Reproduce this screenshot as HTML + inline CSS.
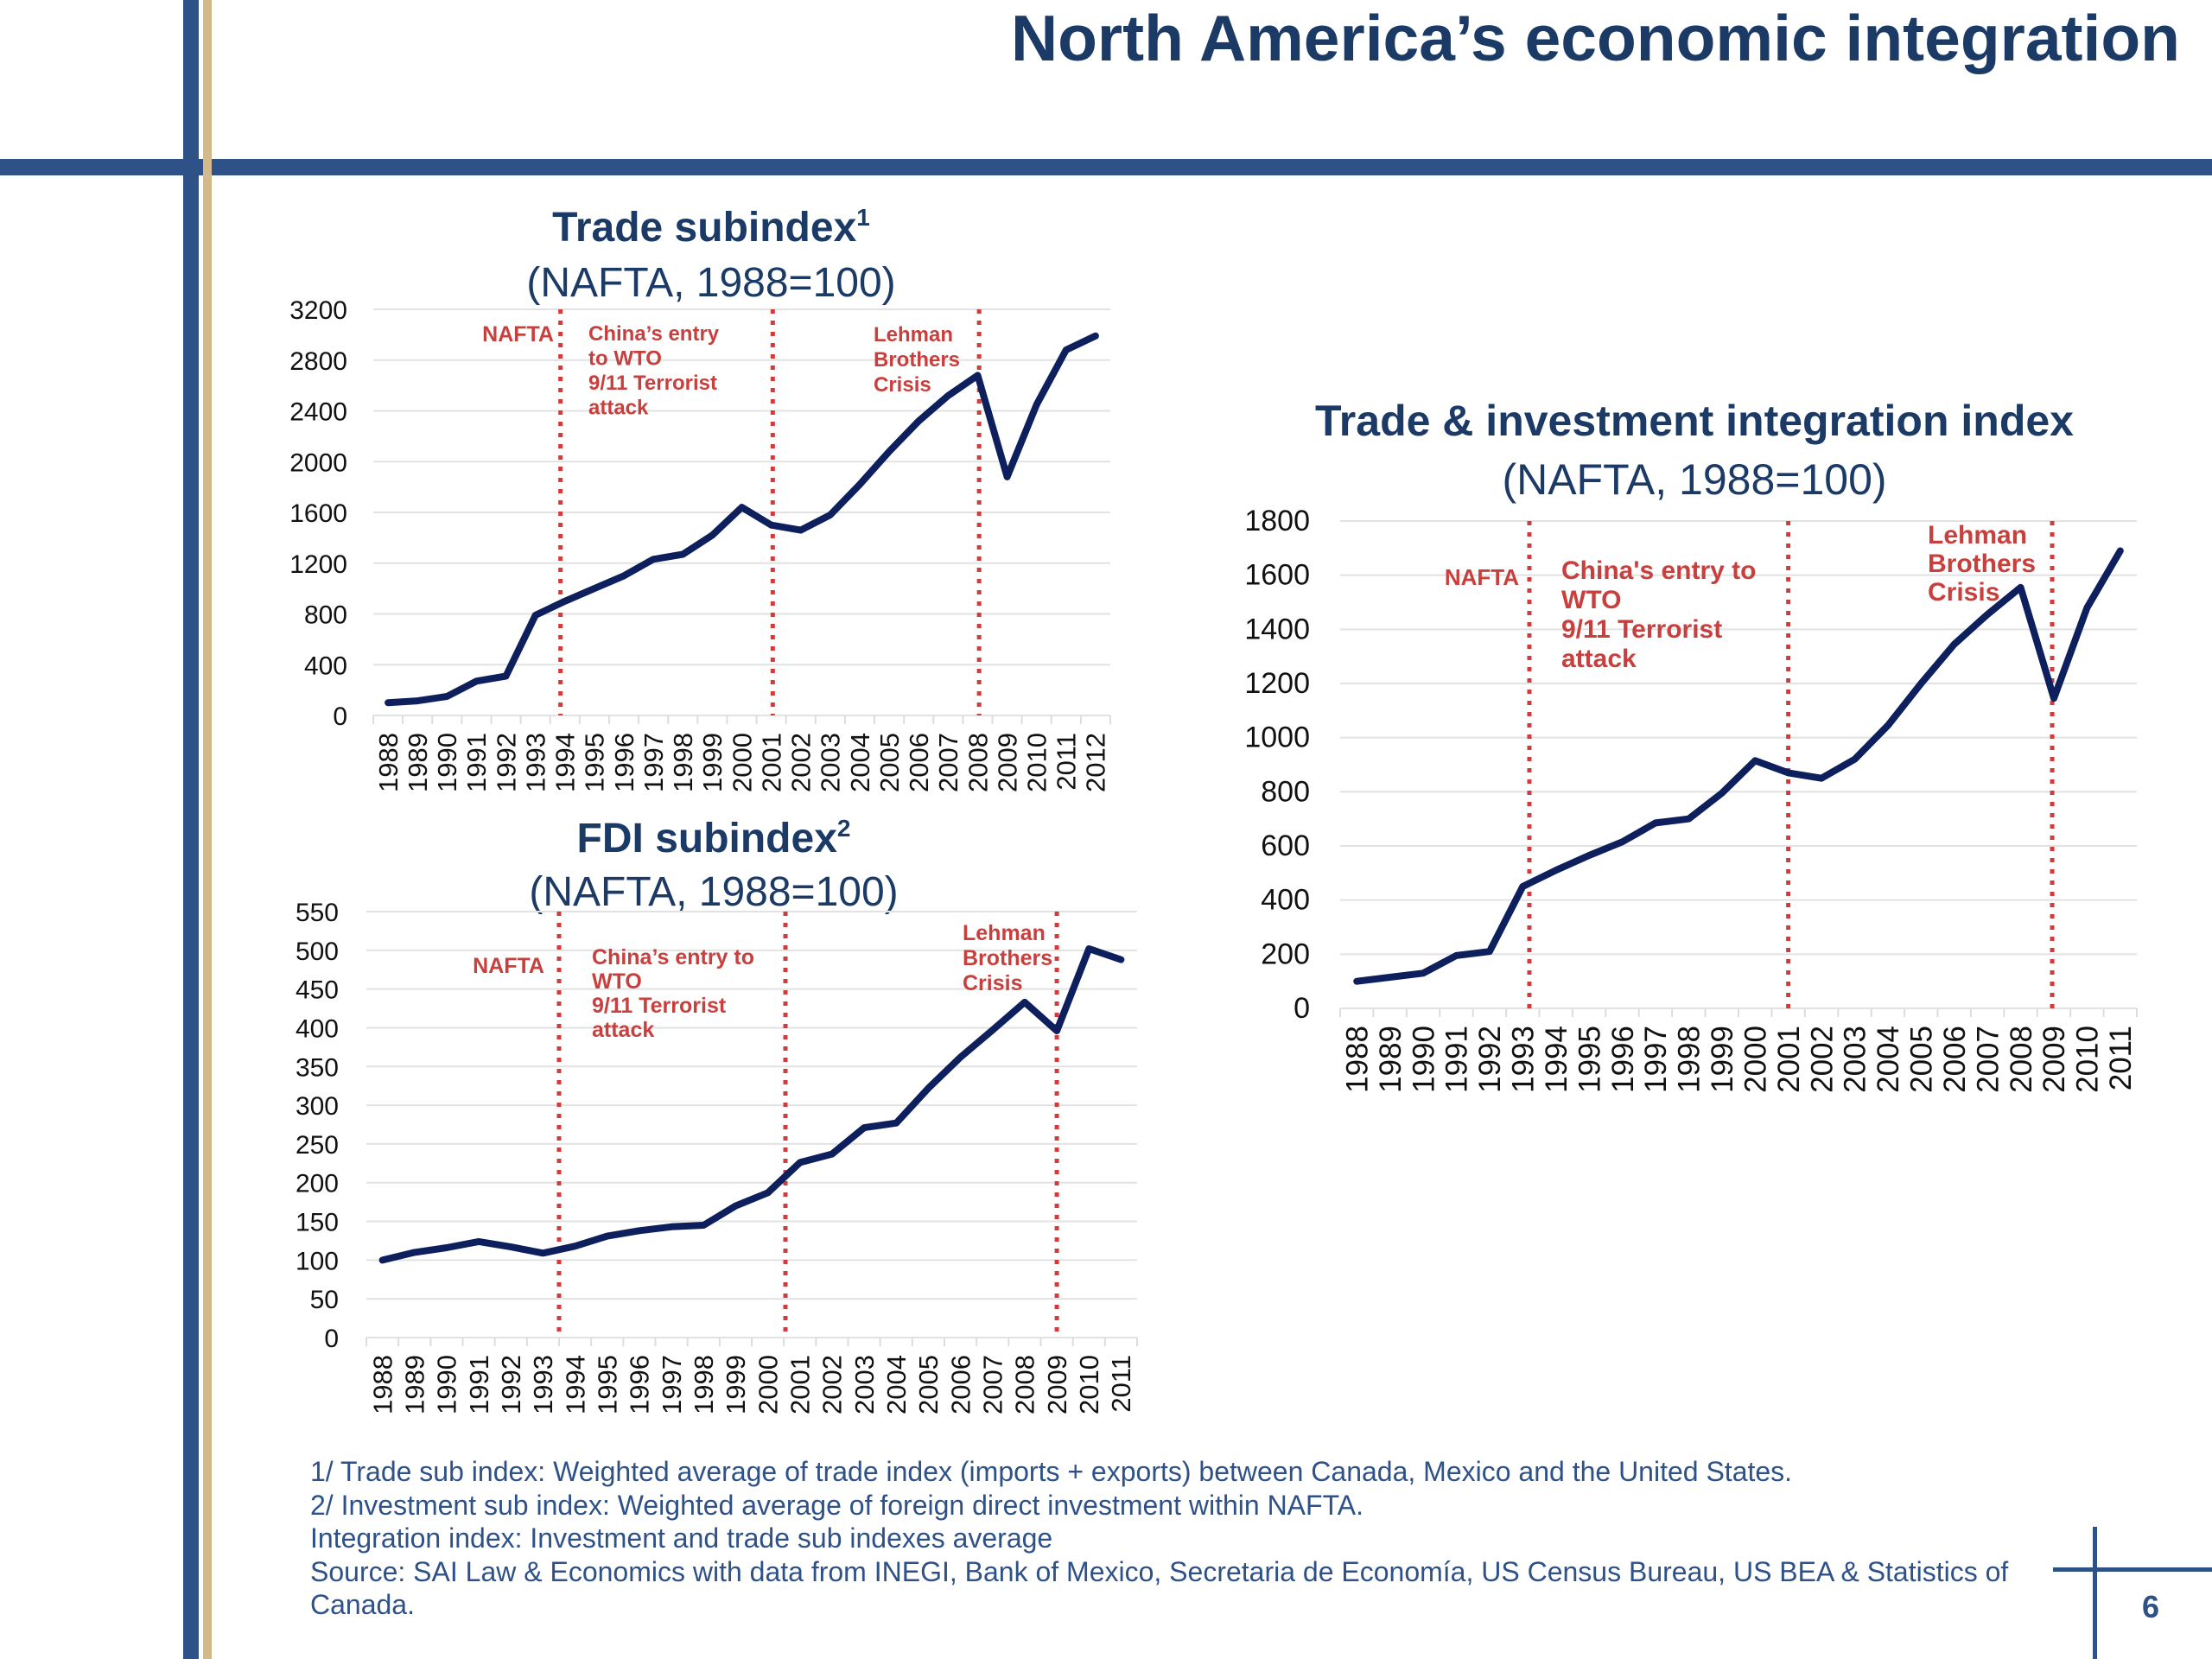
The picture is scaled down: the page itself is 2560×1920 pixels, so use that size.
<!DOCTYPE html>
<html><head><meta charset="utf-8"><style>
html,body{margin:0;padding:0;background:#fff}
svg{display:block}
</style></head><body>
<svg id="s" width="2560" height="1920" viewBox="0 0 2560 1920" xmlns="http://www.w3.org/2000/svg" font-family="Liberation Sans, Arial, sans-serif">
<rect x="0" y="0" width="2560" height="1920" fill="#fff"/>
<rect x="0" y="184" width="2560" height="19" fill="#2e5188"/>
<rect x="212" y="0" width="18" height="1920" fill="#2e5188"/>
<rect x="235" y="0" width="10" height="1920" fill="#d4b98a"/>
<text x="2523" y="70" text-anchor="end" font-size="75" font-weight="bold" fill="#1b3a66">North America’s economic integration</text>
<g font-size="32" fill="#2e5188">
<text x="359" y="1714">1/ Trade sub index: Weighted average of trade index (imports + exports) between Canada, Mexico and the United States.</text>
<text x="359" y="1753">2/ Investment sub index: Weighted average of foreign direct investment within NAFTA.</text>
<text x="359" y="1791">Integration index: Investment and trade sub indexes average</text>
<text x="359" y="1830">Source: SAI Law &amp; Economics with data from INEGI, Bank of Mexico, Secretaria de Economía, US Census Bureau, US BEA &amp; Statistics of</text>
<text x="359" y="1868">Canada.</text>
</g>
<rect x="2422" y="1767" width="5" height="153" fill="#2e5188"/>
<rect x="2376" y="1814" width="184" height="5" fill="#2e5188"/>
<text x="2489" y="1872" text-anchor="middle" font-size="36" font-weight="bold" fill="#2e5188">6</text>
</svg>
<script>
const tradeYears = ["1988","1989","1990","1991","1992","1993","1994","1995","1996","1997","1998","1999","2000","2001","2002","2003","2004","2005","2006","2007","2008","2009","2010","2011","2012"];
const tradeValues = [100,115,150,270,310,790,900,1000,1100,1230,1270,1420,1640,1500,1460,1580,1820,2080,2320,2520,2680,1880,2450,2880,2990];
const tradeTicks = [0,400,800,1200,1600,2000,2400,2800,3200];
const tradeEvents = [5.85,13.05,20.05];
const fdiYears = ["1988","1989","1990","1991","1992","1993","1994","1995","1996","1997","1998","1999","2000","2001","2002","2003","2004","2005","2006","2007","2008","2009","2010","2011"];
const fdiValues = [100,110,116,124,117,109,118,131,138,143,145,170,187,226,237,271,277,322,362,397,433,396,502,488];
const fdiTicks = [0,50,100,150,200,250,300,350,400,450,500,550];
const fdiEvents = [5.5,12.55,21.0];
const intYears = fdiYears.slice();
const intValues = [100,115,130,195,210,450,510,565,615,685,700,795,915,870,850,920,1045,1200,1345,1455,1555,1145,1480,1690];
const intTicks = [0,200,400,600,800,1000,1200,1400,1600,1800];
const intEvents = [5.2,13.0,20.95];

const NS="http://www.w3.org/2000/svg";
const svg=document.getElementById('s');
function mk(tag,attrs,parent){const e=document.createElementNS(NS,tag);for(const k in attrs)e.setAttribute(k,attrs[k]);(parent||svg).appendChild(e);return e;}

function chart(cfg,years,values,ticks,events){
  const g=mk('g',{});
  
  
  const n=years.length, band=(cfg.x1-cfg.x0)/n;
  const ymax=ticks[ticks.length-1];
  const X=i=>cfg.x0+band*(i+0.5);
  const Y=v=>cfg.yb-(v/ymax)*(cfg.yb-cfg.yt);
  const t1=mk('text',{x:cfg.cx,y:cfg.ty,'text-anchor':'middle','font-size':cfg.tfs,'font-weight':'bold',fill:'#1b3a66'},g);
  t1.textContent=cfg.title;
  if(cfg.sup){const ts=mk('tspan',{'font-size':28,dy:-18},t1);ts.textContent=cfg.sup;}
  
  
  const t2=mk('text',{x:cfg.cx,y:cfg.sy,'text-anchor':'middle','font-size':cfg.tfs,fill:'#1b3a66'},g);
  t2.textContent='(NAFTA, 1988=100)';
  
  
  ticks.forEach(t=>{
    const l=mk('line',{x1:cfg.x0,x2:cfg.x1,y1:Y(t),y2:Y(t),stroke:'#e2e2e2','stroke-width':2},g);
    
    
    const tx=mk('text',{x:cfg.lx,y:Y(t)+11,'text-anchor':'end','font-size':cfg.fs,fill:'#111'},g);
    tx.textContent=t;
    
    
  });
  for(let i=0;i<=n;i++){
    const tk=mk('line',{x1:cfg.x0+band*i,x2:cfg.x0+band*i,y1:cfg.yb,y2:cfg.yb+10,stroke:'#ddd','stroke-width':2},g);
    
    
  }
  years.forEach((yr,i)=>{
    const tx=mk('text',{x:0,y:0,'text-anchor':'end','font-size':cfg.fs+1,fill:'#111',transform:`translate(${X(i)+cfg.fs*0.36},${cfg.yb+20}) rotate(-90)`},g);
    tx.textContent=yr;
    
    
  });
  events.forEach(e=>{
    const l=mk('line',{x1:X(e),x2:X(e),y1:cfg.yt,y2:cfg.yb,stroke:'#d23b3b','stroke-width':5,'stroke-dasharray':'5 8'},g);
    
    
  });
  const pts=values.map((v,i)=>X(i).toFixed(1)+','+Y(v).toFixed(1)).join(' ');
  const pl=mk('polyline',{points:pts,fill:'none',stroke:'#0d1f5c','stroke-width':8,'stroke-linejoin':'round','stroke-linecap':'round'},g);
  
  
  cfg.notes.forEach(nt=>{
    const tx=mk('text',{x:nt.x,y:nt.y,'text-anchor':nt.a||'start','font-size':nt.fs,'font-weight':'bold',fill:'#c8403e'},g);
    nt.lines.forEach((ln,k)=>{const ts=mk('tspan',{x:nt.x,dy:k?nt.lh:0},tx);ts.textContent=ln;});
    
    
  });
}

chart({name:'trade-subindex-chart',title:'Trade subindex',sup:'1',tfs:48,cx:823,ty:279,sy:343,x0:432,x1:1285,yt:358,yb:828,lx:402,fs:30,
  notes:[{x:641,y:395,a:'end',fs:25,lh:0,lines:['NAFTA']},
         {x:681,y:394,fs:24,lh:28.5,lines:['China’s entry','to WTO','9/11 Terrorist','attack']},
         {x:1011,y:395,fs:24,lh:29,lines:['Lehman','Brothers','Crisis']}]},
  tradeYears,tradeValues,tradeTicks,tradeEvents);
chart({name:'fdi-subindex-chart',title:'FDI subindex',sup:'2',tfs:48,cx:826,ty:986,sy:1048,x0:424,x1:1316,yt:1055,yb:1548,lx:392,fs:30,
  notes:[{x:630,y:1126,a:'end',fs:25,lh:0,lines:['NAFTA']},
         {x:685,y:1116,fs:25,lh:28,lines:['China’s entry to','WTO','9/11 Terrorist','attack']},
         {x:1114,y:1088,fs:25,lh:29,lines:['Lehman','Brothers','Crisis']}]},
  fdiYears,fdiValues,fdiTicks,fdiEvents);
chart({name:'integration-index-chart',title:'Trade & investment integration index',sup:'',tfs:50,cx:1961,ty:504,sy:572,x0:1551,x1:2473,yt:603,yb:1167,lx:1516,fs:34,
  notes:[{x:1758,y:677,a:'end',fs:26,lh:0,lines:['NAFTA']},
         {x:1807,y:670,fs:30,lh:34,lines:['China\'s entry to','WTO','9/11 Terrorist','attack']},
         {x:2231,y:629,fs:30,lh:33,lines:['Lehman','Brothers','Crisis']}]},
  intYears,intValues,intTicks,intEvents);
</script>
</body></html>
